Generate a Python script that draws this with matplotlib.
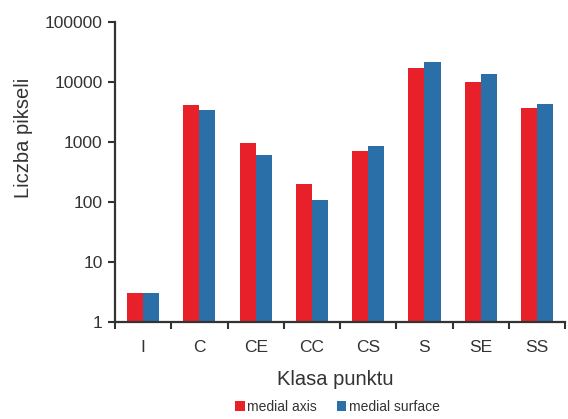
import numpy as np
import matplotlib.pyplot as plt
from matplotlib.ticker import FixedLocator, NullFormatter

plt.rcParams['font.family'] = ['Liberation Sans', 'DejaVu Sans']

# Point classes and pixel counts for both skeleton types
classes = ['I', 'C', 'CE', 'CC', 'CS', 'S', 'SE', 'SS']
medial_axis = [3, 4150, 950, 200, 710, 17300, 10100, 3700]
medial_surface = [3, 3450, 610, 107, 850, 21300, 13800, 4270]

RED = '#e8202a'
BLUE = '#2a6fa8'
INK = '#333333'

fig = plt.figure(figsize=(5.68, 4.19), dpi=100)
ax = fig.add_axes([0.2025, 0.2315, 0.7925, 0.716])

x = np.arange(len(classes))
w = 0.285
ax.bar(x - w / 2, medial_axis, width=w, color=RED, label='medial axis')
ax.bar(x + w / 2, medial_surface, width=w, color=BLUE, label='medial surface')

ax.set_yscale('log')
ax.set_ylim(1, 100000)
ax.set_xlim(-0.5, len(classes) - 0.5)

yt = [1, 10, 100, 1000, 10000, 100000]
ax.yaxis.set_major_locator(FixedLocator(yt))
ax.set_yticklabels([str(v) for v in yt])
ax.yaxis.set_minor_locator(FixedLocator([]))

# labels at the group centres, tick marks between groups
ax.set_xticks(x)
ax.set_xticklabels(classes)
ax.xaxis.set_minor_locator(FixedLocator(np.arange(-0.5, len(classes), 1.0)))
ax.xaxis.set_minor_formatter(NullFormatter())
ax.tick_params(axis='x', which='major', length=0, pad=13, labelsize=12.5, colors=INK)
ax.tick_params(axis='x', which='minor', length=5, width=1.5, color=INK)
ax.tick_params(axis='y', which='major', length=5, width=1.5, color=INK,
               labelsize=12.5, labelcolor=INK, pad=4)

for s in ['top', 'right']:
    ax.spines[s].set_visible(False)
for s in ['left', 'bottom']:
    ax.spines[s].set_linewidth(1.6)
    ax.spines[s].set_color(INK)

ax.set_ylabel('Liczba pikseli', fontsize=14.5, color=INK, va='center')
ax.yaxis.set_label_coords(-0.204, 0.615)
ax.set_xlabel('Klasa punktu', fontsize=14.5, color=INK, va='center')
ax.xaxis.set_label_coords(0.49, -0.19)

fig.legend(loc='center', bbox_to_anchor=(0.594, 0.029), ncol=2, frameon=False,
           fontsize=10, handlelength=0.7, handleheight=0.7, handletextpad=0.2,
           columnspacing=1.4, labelcolor=INK)

fig.savefig('out.png', dpi=100)
